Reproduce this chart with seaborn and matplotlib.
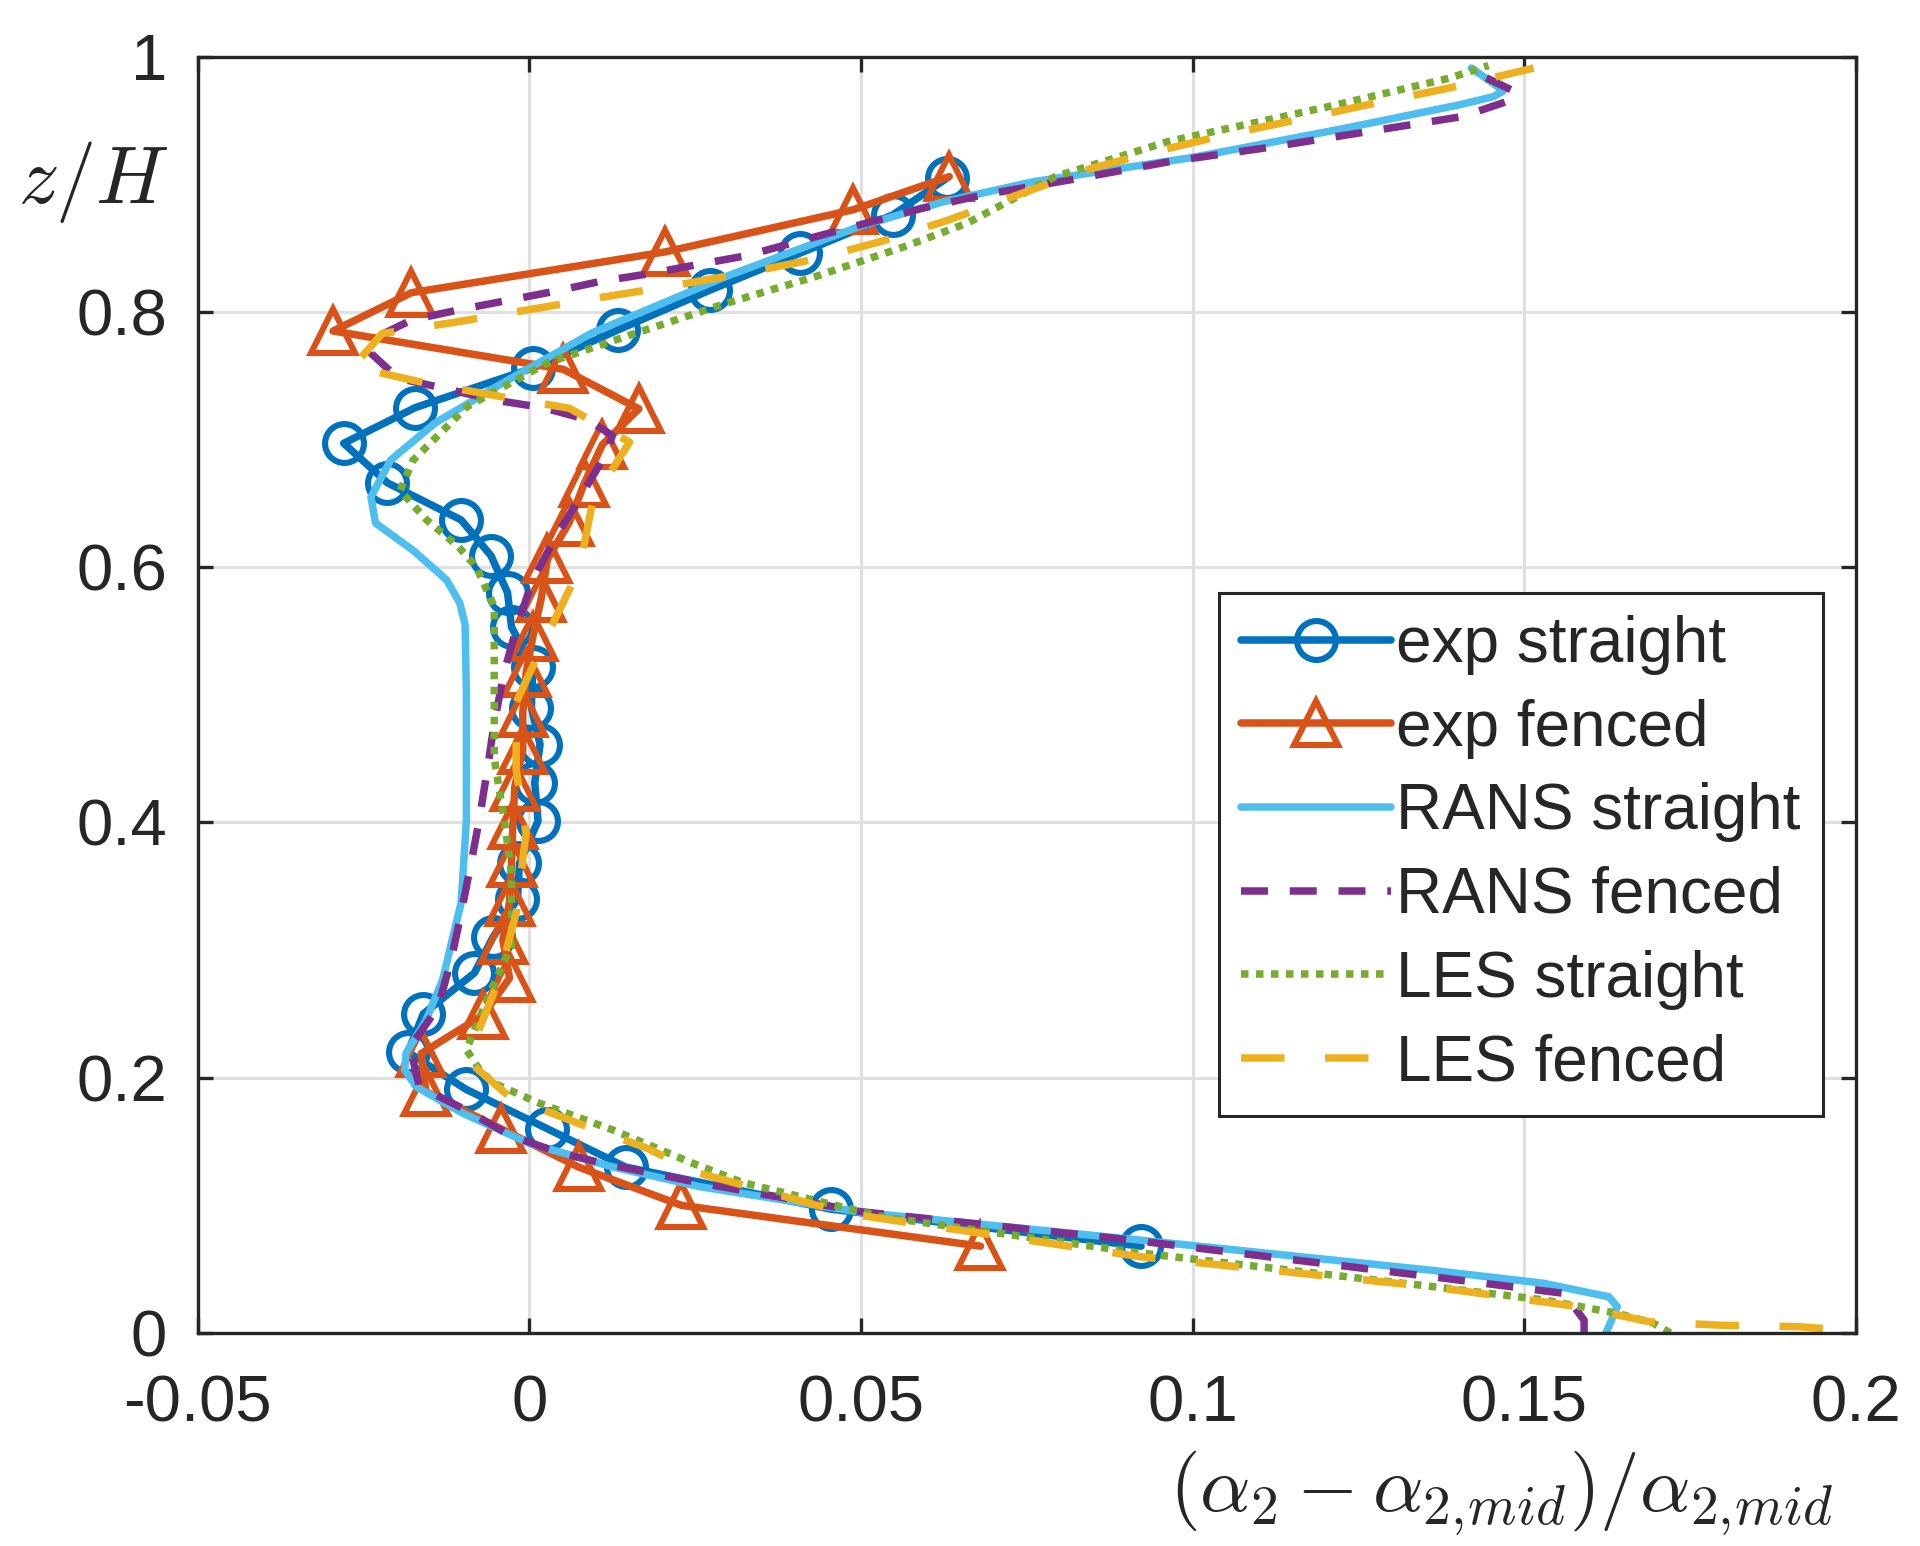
import seaborn as sns
import matplotlib.pyplot as plt
import pandas as pd

# experiment (markers), read top to bottom
exp_straight_z = [0.905, 0.876, 0.846, 0.817, 0.786, 0.756, 0.725, 0.697, 0.666, 0.637,
                  0.609, 0.580, 0.553, 0.522, 0.490, 0.461, 0.431, 0.401, 0.368, 0.340,
                  0.310, 0.282, 0.250, 0.220, 0.191, 0.160, 0.130, 0.097, 0.068]
exp_straight_x = [0.0630, 0.0548, 0.0408, 0.0272, 0.0134, 0.0005, -0.0172, -0.0280, -0.0214, -0.0103,
                  -0.0058, -0.0033, -0.0027, 0.0005, 0.0003, 0.0016, 0.0008, 0.0013, -0.0015, -0.0018,
                  -0.0055, -0.0083, -0.0160, -0.0183, -0.0096, 0.0027, 0.0145, 0.0454, 0.0922]

exp_fenced_z = [0.906, 0.880, 0.847, 0.815, 0.785, 0.755, 0.724, 0.696, 0.666, 0.635,
                0.606, 0.576, 0.545, 0.517, 0.486, 0.457, 0.428, 0.398, 0.368, 0.338,
                0.308, 0.278, 0.249, 0.219, 0.189, 0.160, 0.130, 0.100, 0.068]
exp_fenced_x = [0.0633, 0.0488, 0.0205, -0.0178, -0.0296, 0.0051, 0.0165, 0.0110, 0.0083, 0.0060,
                0.0027, 0.0018, 0.0005, -0.0005, -0.0010, -0.0010, -0.0022, -0.0025, -0.0027, -0.0030,
                -0.0040, -0.0030, -0.0070, -0.0163, -0.0156, -0.0043, 0.0074, 0.0229, 0.0680]

# simulations, read bottom to top
rans_straight_z = [0.0, 0.0206, 0.0284, 0.039, 0.049, 0.0728, 0.0945, 0.1146, 0.130, 0.1485,
                   0.172, 0.193, 0.206, 0.219, 0.245, 0.2765, 0.337, 0.402, 0.50, 0.555,
                   0.572, 0.59, 0.613, 0.6345, 0.655, 0.684, 0.713, 0.7444, 0.7834, 0.8276,
                   0.867, 0.8864, 0.902, 0.921, 0.944, 0.962, 0.9686, 0.973, 0.979, 0.991]
rans_straight_x = [0.1623, 0.164, 0.1627, 0.1528, 0.1362, 0.092, 0.050, 0.0257, 0.0126, 0.0,
                   -0.010, -0.0171, -0.0188, -0.0186, -0.0156, -0.0131, -0.0103, -0.0095, -0.0095, -0.0097,
                   -0.0105, -0.0125, -0.0175, -0.0232, -0.0239, -0.0209, -0.0142, -0.004, 0.0094, 0.0296,
                   0.0498, 0.0625, 0.076, 0.100, 0.1231, 0.140, 0.1453, 0.1468, 0.1453, 0.142]

rans_fenced_z = [0.0, 0.010, 0.031, 0.044, 0.0728, 0.095, 0.1176, 0.125, 0.133, 0.142,
                 0.155, 0.1745, 0.193, 0.224, 0.255, 0.292, 0.329, 0.368, 0.404, 0.443,
                 0.478, 0.518, 0.555, 0.59, 0.624, 0.657, 0.689, 0.703, 0.7155, 0.725,
                 0.731, 0.740, 0.748, 0.7676, 0.7806, 0.7936, 0.8015, 0.809, 0.816, 0.824,
                 0.830, 0.837, 0.844, 0.854, 0.864, 0.881, 0.8916, 0.9045, 0.918, 0.929,
                 0.941, 0.953, 0.9647, 0.972, 0.9857]
rans_fenced_x = [0.159, 0.159, 0.156, 0.1362, 0.0908, 0.050, 0.0257, 0.0186, 0.011, 0.004,
                 -0.003, -0.0095, -0.0166, -0.018, -0.0138, -0.0118, -0.0103, -0.0088, -0.0075, -0.0063,
                 -0.0053, -0.0038, -0.0018, 0.0005, 0.004, 0.0079, 0.0116, 0.0125, 0.0088, 0.002,
                 -0.0054, -0.0128, -0.0198, -0.0239, -0.0229, -0.0178, -0.0107, -0.0033, 0.0037, 0.0108,
                 0.0182, 0.0253, 0.0327, 0.0397, 0.0468, 0.0591, 0.0683, 0.0827, 0.0968, 0.1117,
                 0.1261, 0.1406, 0.1473, 0.1488, 0.1433]

les_straight_z = [0.0, 0.0077, 0.0154, 0.026, 0.0363, 0.0627, 0.091, 0.1176, 0.133, 0.159,
                  0.180, 0.196, 0.206, 0.222, 0.266, 0.303, 0.360, 0.402, 0.45, 0.569,
                  0.600, 0.616, 0.637, 0.660, 0.684, 0.7257, 0.760, 0.7834, 0.8066, 0.8276,
                  0.851, 0.8695, 0.906, 0.9335, 0.9608, 0.983, 0.993]
les_straight_x = [0.172, 0.1694, 0.164, 0.1528, 0.1362, 0.092, 0.0532, 0.0323, 0.0246, 0.0126,
                  0.0015, -0.0055, -0.0075, -0.0095, -0.006, -0.0027, -0.0027, -0.0038, -0.0053, -0.0053,
                  -0.008, -0.0107, -0.0155, -0.0195, -0.0175, -0.0094, 0.0027, 0.0161, 0.0296, 0.0431,
                  0.0565, 0.066, 0.0793, 0.0963, 0.1205, 0.1386, 0.1446]

les_fenced_z = [0.0035, 0.005, 0.006, 0.0087, 0.0205, 0.036, 0.0598, 0.0937, 0.125, 0.145,
                0.164, 0.185, 0.212, 0.222, 0.274, 0.329, 0.3915, 0.441, 0.494, 0.547,
                0.598, 0.653, 0.698, 0.7245, 0.734, 0.744, 0.757, 0.783, 0.792, 0.8015,
                0.811, 0.820, 0.830, 0.841, 0.856, 0.872, 0.893, 0.9124, 0.927, 0.940,
                0.9515, 0.9635, 0.975, 0.991]
les_fenced_x = [0.195, 0.191, 0.180, 0.1689, 0.1583, 0.1362, 0.092, 0.0478, 0.0257, 0.0176,
                0.0075, -0.003, -0.009, -0.0088, -0.0048, -0.002, -0.0005, -0.002, -0.002, 0.0027,
                0.0075, 0.0096, 0.0151, 0.006, -0.0047, -0.0155, -0.0266, -0.0222, -0.0111, -0.0003,
                0.0104, 0.0212, 0.032, 0.0428, 0.0536, 0.0632, 0.0743, 0.0847, 0.0955, 0.106,
                0.1167, 0.1275, 0.1383, 0.1514]

x_ticks = [-0.05, 0, 0.05, 0.1, 0.15, 0.2]
x_tick_labels = ['-0.05', '0', '0.05', '0.1', '0.15', '0.2']
y_ticks = [0, 0.2, 0.4, 0.6, 0.8, 1]
y_tick_labels = ['0', '0.2', '0.4', '0.6', '0.8', '1']

sns.set_style("whitegrid")
plt.rcParams['font.family'] = ['Liberation Sans', 'DejaVu Sans']
plt.rcParams['mathtext.fontset'] = 'cm'

fig = plt.figure(figsize=(19.2, 15.46), dpi=100)
ax = fig.add_axes([0.103, 0.1378, 0.8637, 0.8256])

lw = 5.4
series = [
    ('exp straight', exp_straight_x, exp_straight_z,
     dict(color='#0072BD', linestyle='-', marker='o', markersize=28,
          markerfacecolor='none', markeredgecolor='#0072BD', markeredgewidth=4.4)),
    ('exp fenced', exp_fenced_x, exp_fenced_z,
     dict(color='#D95319', linestyle='-', marker='^', markersize=31,
          markerfacecolor='none', markeredgecolor='#D95319', markeredgewidth=4.4)),
    ('RANS straight', rans_straight_x, rans_straight_z,
     dict(color='#4DBEEE', linestyle='-')),
    ('RANS fenced', rans_fenced_x, rans_fenced_z,
     dict(color='#7E2F8E', linestyle=(0, (3.6, 2.9)))),
    ('LES straight', les_straight_x, les_straight_z,
     dict(color='#77AC30', linestyle=(0, (1.0, 1.0)))),
    ('LES fenced', les_fenced_x, les_fenced_z,
     dict(color='#EDB120', linestyle=(0, (5.8, 5.4)))),
]

handles = []
for name, xs, zs, style in series:
    df = pd.DataFrame({'x': xs, 'z': zs})
    sns.lineplot(data=df, x='x', y='z', sort=False, estimator=None,
                 linewidth=lw, solid_joinstyle='round', dash_joinstyle='round',
                 ax=ax, **style)
    handles.append(ax.lines[-1])

ax.set_xlim(-0.05, 0.2)
ax.set_ylim(0, 1)
ax.set_xticks(x_ticks)
ax.set_xticklabels(x_tick_labels)
ax.set_yticks(y_ticks)
ax.set_yticklabels(y_tick_labels)

ax.grid(True, color='#e0e0e0', linewidth=2.2)
ax.set_axisbelow(True)
for side in ['left', 'right', 'top', 'bottom']:
    ax.spines[side].set_visible(True)
    ax.spines[side].set_color('#262626')
    ax.spines[side].set_linewidth(2.4)

ax.tick_params(axis='both', which='major', direction='in', length=11, width=2.4,
               color='#262626', labelcolor='#262626', labelsize=47,
               top=True, right=True, bottom=True, left=True)
ax.tick_params(axis='x', pad=30)
ax.tick_params(axis='y', pad=22)

ax.set_xlabel(r'$(\alpha_2-\alpha_{2,\!mid})/\alpha_{2,\!mid}$', fontsize=57,
              ha='right', va='center', color='#262626')
ax.xaxis.set_label_coords(0.986, -0.126)
ax.set_ylabel(r'$z/H$', fontsize=58, rotation=0, ha='center', va='center',
              color='#262626')
ax.yaxis.set_label_coords(-0.063, 0.902)

leg = ax.legend(handles, [s[0] for s in series], loc='upper right',
                bbox_to_anchor=(0.98, 0.58), borderaxespad=0, fontsize=46,
                frameon=True, fancybox=False, framealpha=1, edgecolor='#262626',
                handlelength=2.35, handletextpad=0.08, labelspacing=0.37,
                borderpad=0.35)
leg.get_frame().set_linewidth(2.2)

fig.savefig('out.png', dpi=100, facecolor='white')
